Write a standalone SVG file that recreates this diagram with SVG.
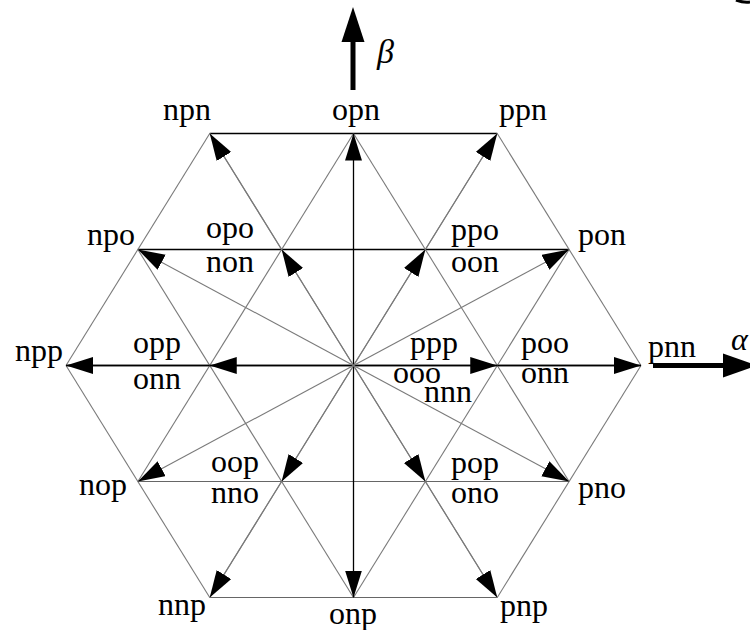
<svg xmlns="http://www.w3.org/2000/svg" width="750" height="630" viewBox="0 0 750 630">
  <style>
    .grid { stroke: #7a7a7a; stroke-width: 1.1; fill: none; }
    .blk { stroke: #000; stroke-width: 1.3; fill: none; }
    .gv { stroke: #7a7a7a; stroke-width: 1.1; fill: none; marker-end: url(#ah); }
    .bv { stroke: #000; stroke-width: 1.3; fill: none; marker-end: url(#ah); }
    text { font-family: "Liberation Serif", "Times New Roman", serif; font-size: 32px; fill: #000; }
    .it { font-style: italic; }
  </style>
  <defs>
    <marker id="ah" markerUnits="userSpaceOnUse" markerWidth="28" markerHeight="18" refX="27" refY="8.5" orient="auto">
      <path d="M0,0 L27,8.5 L0,17 z" fill="#000"/>
    </marker>
  </defs>
  <rect width="750" height="630" fill="#fff"/>

  <!-- grid -->
  <g id="grid">
    <!-- horizontal -->
    <line class="blk" x1="209.75" y1="133.5" x2="497.25" y2="133.5"/>
    <line class="blk" x1="137.875" y1="249.5" x2="569.125" y2="249.5"/>
    <line class="blk" x1="66" y1="365.5" x2="641" y2="365.5"/>
    <line class="grid" x1="137.875" y1="481.5" x2="569.125" y2="481.5" style="stroke:#666"/>
    <line class="grid" x1="209.75" y1="597.5" x2="497.25" y2="597.5" style="stroke:#666"/>
    <!-- "/" lines -->
    <line class="grid" x1="66" y1="365.5" x2="209.75" y2="133.5"/>
    <line class="grid" x1="137.875" y1="481.5" x2="353.5" y2="133.5"/>
    <line class="grid" x1="209.75" y1="597.5" x2="497.25" y2="133.5"/>
    <line class="grid" x1="353.5" y1="597.5" x2="569.125" y2="249.5"/>
    <line class="grid" x1="497.25" y1="597.5" x2="641" y2="365.5"/>
    <!-- "\" lines -->
    <line class="grid" x1="66" y1="365.5" x2="209.75" y2="597.5"/>
    <line class="grid" x1="137.875" y1="249.5" x2="353.5" y2="597.5"/>
    <line class="grid" x1="209.75" y1="133.5" x2="497.25" y2="597.5"/>
    <line class="grid" x1="353.5" y1="133.5" x2="569.125" y2="481.5"/>
    <line class="grid" x1="497.25" y1="133.5" x2="641" y2="365.5"/>
  </g>

  <!-- connectors: space vectors -->
  <g id="connectors">
    <!-- horizontal and vertical (black) -->
    <line class="bv" x1="353.5" y1="365.5" x2="497.25" y2="365.5"/>
    <line class="bv" x1="497.25" y1="365.5" x2="641" y2="365.5"/>
    <line class="bv" x1="353.5" y1="365.5" x2="209.75" y2="365.5"/>
    <line class="bv" x1="209.75" y1="365.5" x2="66" y2="365.5"/>
    <line class="bv" x1="353.5" y1="365.5" x2="353.5" y2="133.5"/>
    <line class="bv" x1="353.5" y1="365.5" x2="353.5" y2="597.5"/>
    <!-- small vectors -->
    <line class="gv" x1="353.5" y1="365.5" x2="425.375" y2="249.5"/>
    <line class="gv" x1="353.5" y1="365.5" x2="281.625" y2="249.5"/>
    <line class="gv" x1="353.5" y1="365.5" x2="281.625" y2="481.5"/>
    <line class="gv" x1="353.5" y1="365.5" x2="425.375" y2="481.5"/>
    <!-- large vectors -->
    <line class="gv" x1="425.375" y1="249.5" x2="497.25" y2="133.5"/>
    <line class="gv" x1="281.625" y1="249.5" x2="209.75" y2="133.5"/>
    <line class="gv" x1="281.625" y1="481.5" x2="209.75" y2="597.5"/>
    <line class="gv" x1="425.375" y1="481.5" x2="497.25" y2="597.5"/>
    <!-- medium vectors -->
    <line class="gv" x1="353.5" y1="365.5" x2="569.125" y2="249.5"/>
    <line class="gv" x1="353.5" y1="365.5" x2="137.875" y2="249.5"/>
    <line class="gv" x1="353.5" y1="365.5" x2="137.875" y2="481.5"/>
    <line class="gv" x1="353.5" y1="365.5" x2="569.125" y2="481.5"/>
  </g>

  <!-- axes -->
  <g id="axis-beta">
    <line x1="353" y1="90" x2="353" y2="40" stroke="#000" stroke-width="5"/>
    <polygon points="341.5,42 353,7 364.5,42" fill="#000"/>
    <text class="it" x="377" y="63" style="font-size:34px">β</text>
  </g>
  <g id="axis-alpha">
    <line x1="653" y1="365.5" x2="725" y2="365.5" stroke="#000" stroke-width="5"/>
    <polygon points="723,353.5 757,365.5 723,377.5" fill="#000"/>
    <text class="it" x="731" y="350">α</text>
  </g>
  <path d="M736,0 Q744,3 750,2" stroke="#000" stroke-width="3" fill="none"/>

  <!-- nodes (switching state labels) -->
  <g id="n-npn"><text x="163" y="120">npn</text></g>
  <g id="n-opn"><text x="332" y="119.5">opn</text></g>
  <g id="n-ppn"><text x="499" y="120">ppn</text></g>
  <g id="n-npo"><text x="87" y="245">npo</text></g>
  <g id="n-opo-non"><text x="206" y="238">opo</text><text x="206" y="272">non</text></g>
  <g id="n-ppo-oon"><text x="451" y="240">ppo</text><text x="451" y="272">oon</text></g>
  <g id="n-pon"><text x="578" y="245">pon</text></g>
  <g id="n-npp"><text x="15" y="360.5">npp</text></g>
  <g id="n-opp-onn"><text x="133" y="353">opp</text><text x="133" y="389">onn</text></g>
  <g id="n-ppp-ooo-nnn"><text x="410" y="353">ppp</text><text x="393" y="383">ooo</text><text x="424" y="401.5">nnn</text></g>
  <g id="n-poo-onn"><text x="521" y="353">poo</text><text x="521" y="383">onn</text></g>
  <g id="n-pnn"><text x="648" y="357">pnn</text></g>
  <g id="n-nop"><text x="79" y="495">nop</text></g>
  <g id="n-oop-nno"><text x="211" y="472">oop</text><text x="211" y="503">nno</text></g>
  <g id="n-pop-ono"><text x="451" y="473">pop</text><text x="451" y="503">ono</text></g>
  <g id="n-pno"><text x="578" y="498">pno</text></g>
  <g id="n-nnp"><text x="158" y="615">nnp</text></g>
  <g id="n-onp"><text x="329" y="624">onp</text></g>
  <g id="n-pnp"><text x="500" y="616">pnp</text></g>
</svg>
